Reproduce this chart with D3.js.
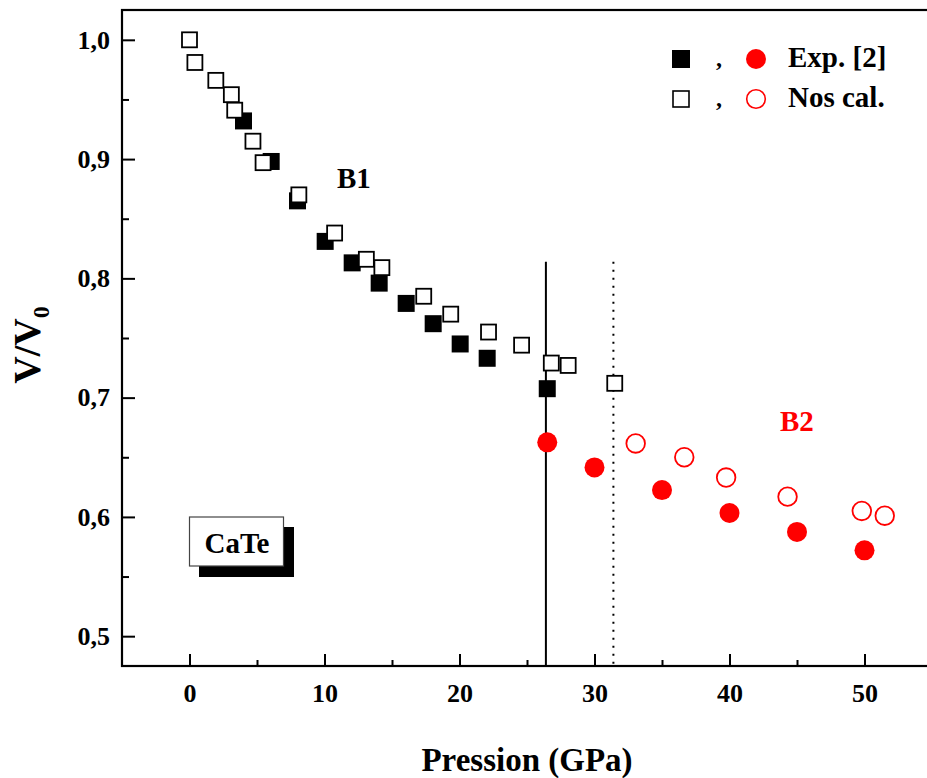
<!DOCTYPE html>
<html>
<head>
<meta charset="utf-8">
<script src="https://cdn.jsdelivr.net/npm/d3@7"></script>
<style>
  body { margin: 0; background: #fff; }
  text { font-family: "Liberation Serif", "Times New Roman", serif; font-weight: bold; }
</style>
</head>
<body>
<script>
// experimental B1 (filled squares)
var expB1P = [4.0, 6.05, 8.0, 10.05, 12.05, 14.05, 16.05, 18.05, 20.05, 22.05, 26.5];
var expB1V = [0.932, 0.898, 0.865, 0.831, 0.813, 0.796, 0.779, 0.762, 0.745, 0.733, 0.7075];
// calculated B1 (open squares)
var calB1P = [0, 0.4, 1.95, 3.1, 3.35, 4.7, 5.45, 8.1, 10.75, 13.1, 14.25, 17.35, 19.35, 22.15, 24.6, 26.8, 28.05, 31.5];
var calB1V = [1.0, 0.981, 0.966, 0.954, 0.941, 0.915, 0.897, 0.870, 0.838, 0.816, 0.809, 0.785, 0.770, 0.755, 0.744, 0.729, 0.727, 0.712];
// experimental B2 (filled circles)
var expB2P = [26.5, 30.0, 35.0, 40.0, 45.0, 50.0];
var expB2V = [0.6625, 0.6415, 0.6225, 0.6033, 0.5874, 0.572];
// calculated B2 (open circles)
var calB2P = [33.05, 36.65, 39.75, 44.3, 49.8, 51.5];
var calB2V = [0.6616, 0.650, 0.633, 0.617, 0.605, 0.601];
// transition pressures
var transExp = 26.4, transCal = 31.4, transTop = 0.814;

var xMajor = [0, 10, 20, 30, 40, 50];
var xMinor = [5, 15, 25, 35, 45];
var yMajor = [0.5, 0.6, 0.7, 0.8, 0.9, 1.0];
var yMinor = [0.55, 0.65, 0.75, 0.85, 0.95];

var W = 927, H = 778;
var svg = d3.select('body').append('svg').attr('width', W).attr('height', H);

var x = d3.scaleLinear().domain([-5, 55]).range([122, 932]);
var y = d3.scaleLinear().domain([0.475, 1.025]).range([666, 10]);
var fmt = function (d) { return d3.format('.1f')(d).replace('.', ','); };

// frame
svg.append('rect')
    .attr('x', x(-5)).attr('y', y(1.025))
    .attr('width', x(55) - x(-5)).attr('height', y(0.475) - y(1.025))
    .attr('fill', 'none').attr('stroke', '#000').attr('stroke-width', 2.2);

function styleAxis(g) {
    g.select('.domain').remove();
    g.selectAll('line').attr('stroke', '#000').attr('stroke-width', 2);
    g.selectAll('text').attr('fill', '#000').style('font-size', '26px')
        .style('font-family', '"Liberation Serif", serif').style('font-weight', 'bold');
}

svg.append('g').attr('transform', 'translate(0,' + y(0.475) + ')')
    .call(d3.axisBottom(x).tickValues(xMajor).tickSize(-12).tickPadding(18).tickFormat(d3.format('d')))
    .call(styleAxis);
svg.append('g').attr('transform', 'translate(0,' + y(0.475) + ')')
    .call(d3.axisBottom(x).tickValues(xMinor).tickSize(-6).tickFormat(''))
    .call(styleAxis);
svg.append('g').attr('transform', 'translate(' + x(-5) + ',0)')
    .call(d3.axisLeft(y).tickValues(yMajor).tickSize(-13).tickPadding(12).tickFormat(fmt))
    .call(styleAxis);
svg.append('g').attr('transform', 'translate(' + x(-5) + ',0)')
    .call(d3.axisLeft(y).tickValues(yMinor).tickSize(-7).tickFormat(''))
    .call(styleAxis);

// transition lines
svg.append('line')
    .attr('x1', x(transExp)).attr('x2', x(transExp))
    .attr('y1', y(transTop)).attr('y2', y(0.475))
    .attr('stroke', '#000').attr('stroke-width', 2);
svg.append('line')
    .attr('x1', x(transCal)).attr('x2', x(transCal))
    .attr('y1', y(transTop)).attr('y2', y(0.475))
    .attr('stroke', '#000').attr('stroke-width', 2).attr('stroke-dasharray', '2,6');

var sq = 17;
svg.selectAll('rect.expB1').data(d3.zip(expB1P, expB1V)).enter().append('rect')
    .attr('class', 'expB1')
    .attr('x', function (d) { return x(d[0]) - sq / 2; })
    .attr('y', function (d) { return y(d[1]) - sq / 2; })
    .attr('width', sq).attr('height', sq).attr('fill', '#000');

svg.selectAll('rect.calB1').data(d3.zip(calB1P, calB1V)).enter().append('rect')
    .attr('class', 'calB1')
    .attr('x', function (d) { return x(d[0]) - (sq - 2) / 2; })
    .attr('y', function (d) { return y(d[1]) - (sq - 2) / 2; })
    .attr('width', sq - 2).attr('height', sq - 2)
    .attr('fill', '#fff').attr('stroke', '#000').attr('stroke-width', 1.8);

svg.selectAll('circle.expB2').data(d3.zip(expB2P, expB2V)).enter().append('circle')
    .attr('class', 'expB2')
    .attr('cx', function (d) { return x(d[0]); })
    .attr('cy', function (d) { return y(d[1]); })
    .attr('r', 10).attr('fill', '#ff0000');

svg.selectAll('circle.calB2').data(d3.zip(calB2P, calB2V)).enter().append('circle')
    .attr('class', 'calB2')
    .attr('cx', function (d) { return x(d[0]); })
    .attr('cy', function (d) { return y(d[1]); })
    .attr('r', 9.3).attr('fill', 'none').attr('stroke', '#ff0000').attr('stroke-width', 1.8);

// labels
svg.append('text').attr('x', 337).attr('y', 188).style('font-size', '29px').text('B1');
svg.append('text').attr('x', 780).attr('y', 431).style('font-size', '29px').attr('fill', '#ff0000').text('B2');

// CaTe box
svg.append('rect').attr('x', 199).attr('y', 527).attr('width', 95).attr('height', 50).attr('fill', '#000');
svg.append('rect').attr('x', 189.5).attr('y', 517).attr('width', 94).attr('height', 49)
    .attr('fill', '#fff').attr('stroke', '#444').attr('stroke-width', 1.2);
svg.append('text').attr('x', 237).attr('y', 553).attr('text-anchor', 'middle')
    .style('font-size', '29px').text('CaTe');

// legend
var lg = svg.append('g');
lg.append('rect').attr('x', 672).attr('y', 50).attr('width', 18).attr('height', 18).attr('fill', '#000');
lg.append('rect').attr('x', 673).attr('y', 91).attr('width', 16).attr('height', 16)
    .attr('fill', '#fff').attr('stroke', '#000').attr('stroke-width', 1.6);
lg.append('text').attr('x', 716).attr('y', 66).style('font-size', '24px').text(',');
lg.append('text').attr('x', 716).attr('y', 106).style('font-size', '24px').text(',');
lg.append('circle').attr('cx', 756).attr('cy', 59).attr('r', 10).attr('fill', '#ff0000');
lg.append('circle').attr('cx', 756).attr('cy', 99).attr('r', 9.3)
    .attr('fill', 'none').attr('stroke', '#ff0000').attr('stroke-width', 1.6);
lg.append('text').attr('x', 788).attr('y', 67).style('font-size', '29px').text('Exp. [2]');
lg.append('text').attr('x', 788).attr('y', 107).style('font-size', '29px').text('Nos cal.');

// axis titles
svg.append('text').attr('x', 527).attr('y', 771).attr('text-anchor', 'middle')
    .style('font-size', '33px').text('Pression (GPa)');
var yt = svg.append('text').attr('transform', 'translate(40,345) rotate(-90)')
    .attr('text-anchor', 'middle').style('font-size', '38px');
yt.append('tspan').text('V/V');
yt.append('tspan').attr('dy', 9).style('font-size', '24px').text('0');
</script>
</body>
</html>
